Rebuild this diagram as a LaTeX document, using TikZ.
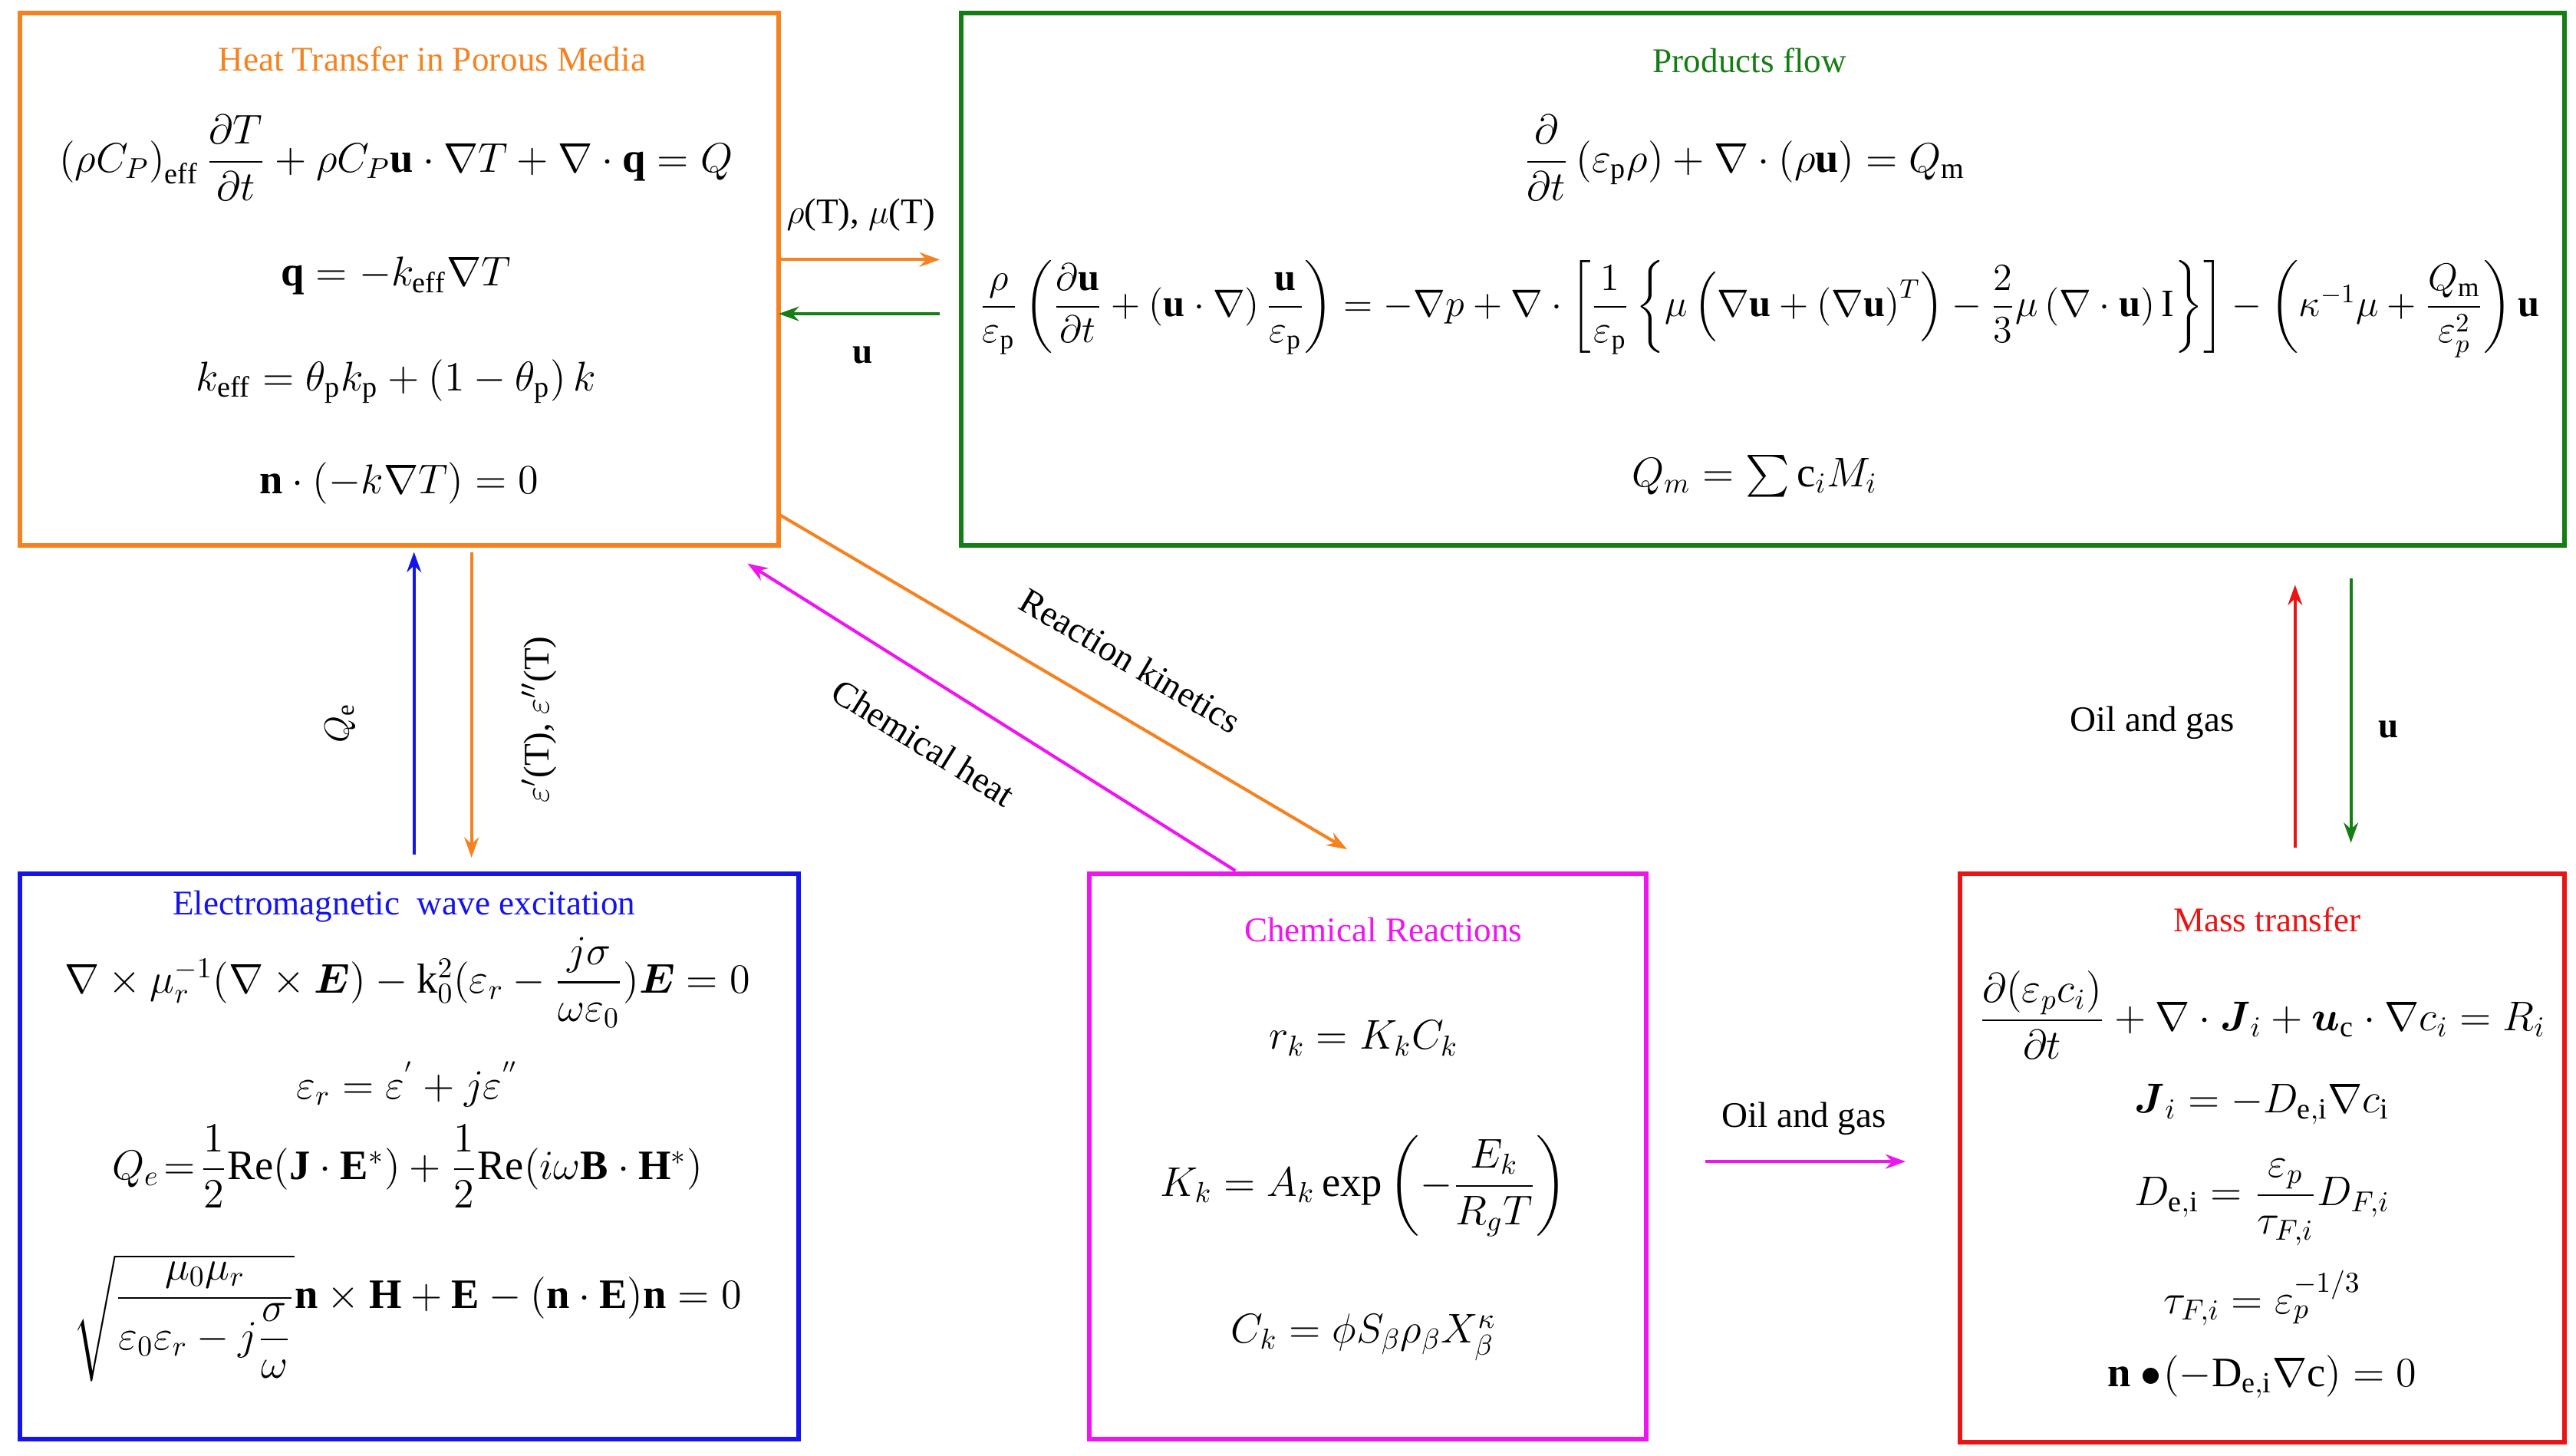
\documentclass[tikz,border=0pt]{standalone}
\usepackage{amsmath,amssymb,graphicx}
\usepackage{fontspec}
\setmainfont{Liberation Serif}
\usetikzlibrary{arrows.meta}
\definecolor{cor}{RGB}{245,130,32}
\definecolor{cgr}{RGB}{20,125,20}
\definecolor{cbl}{RGB}{20,20,235}
\definecolor{cmg}{RGB}{240,20,240}
\definecolor{crd}{RGB}{235,20,20}
\begin{document}
\begin{tikzpicture}[x=0.02cm,y=-0.02cm,
  box/.style={draw,line width=1.6pt},
  ttl/.style={font=\fontsize{12}{14}\selectfont},
  eq/.style={font=\fontsize{14.5}{16}\selectfont,inner sep=0pt},
  lab/.style={font=\fontsize{12.5}{14}\selectfont,inner sep=1pt},
  arr/.style={-{Stealth[length=7pt,width=5pt]},line width=1.1pt}]
\useasboundingbox (0,0) rectangle (1568,886);
% boxes
\draw[box,cor] (12,8) rectangle (474,332);
\draw[box,cgr] (585,8) rectangle (1561,332);
\draw[box,cbl] (12,532) rectangle (486,876);
\draw[box,cmg] (663,532) rectangle (1002,876);
\draw[box,crd] (1193,532) rectangle (1561,878);
% Heat
\node[ttl,text=cor] (th) at (263,36) {Heat Transfer in Porous Media};
\node[eq] (h1) at (241,96) {$\left(\rho C_P\right)_{\mathrm{eff}}\dfrac{\partial T}{\partial t}+\rho C_P\mathbf{u}\cdot\nabla T+\nabla\cdot\mathbf{q}=Q$};
\node[eq] (h2) at (241,168) {$\mathbf{q}=-k_{\mathrm{eff}}\nabla T$};
\node[eq] (h3) at (241,232) {$k_{\mathrm{eff}}=\theta_{\mathrm p}k_{\mathrm p}+\left(1-\theta_{\mathrm p}\right)k$};
\node[eq] (h4) at (243,294) {$\mathbf{n}\cdot(-k\nabla T)=0$};
% Products
\node[ttl,text=cgr] (tp) at (1065,37) {Products flow};
\node[eq] (p1) at (1062,96) {$\dfrac{\partial}{\partial t}\left(\varepsilon_{\mathrm p}\rho\right)+\nabla\cdot\left(\rho\mathbf{u}\right)=Q_{\mathrm m}$};
\node[eq] (p2) at (1071,188) {\resizebox{19cm}{!}{$\dfrac{\rho}{\varepsilon_{\mathrm p}}\left(\dfrac{\partial\mathbf{u}}{\partial t}+\left(\mathbf{u}\cdot\nabla\right)\dfrac{\mathbf{u}}{\varepsilon_{\mathrm p}}\right)=-\nabla p+\nabla\cdot\left[\dfrac{1}{\varepsilon_{\mathrm p}}\left\{\mu\left(\nabla\mathbf{u}+\left(\nabla\mathbf{u}\right)^T\right)-\dfrac{2}{3}\mu\left(\nabla\cdot\mathbf{u}\right)\mathrm{I}\right\}\right]-\left(\kappa^{-1}\mu+\dfrac{Q_{\mathrm m}}{\varepsilon_p^2}\right)\mathbf{u}$}};
\node[eq] (p3) at (1068,290) {$Q_m=\sum \mathrm{c}_iM_i$};
% EM
\node[ttl,text=cbl] (te) at (246,552) {Electromagnetic\ \ wave excitation};
\node[eq] (e1) at (248,598) {$\nabla\times\mu_r^{-1}(\nabla\times\boldsymbol{E})-\mathrm{k}_0^2(\varepsilon_r-\dfrac{j\sigma}{\omega\varepsilon_0})\boldsymbol{E}=0$};
\node[eq] (e2) at (248,660) {$\varepsilon_r=\varepsilon^{'}+j\varepsilon^{''}$};
\node[eq] (e3) at (248,710) {$Q_e\!=\!\dfrac{1}{2}\mathrm{Re}(\mathbf{J}\cdot\mathbf{E}^*)+\dfrac{1}{2}\mathrm{Re}(i\omega\mathbf{B}\cdot\mathbf{H}^*)$};
\node[eq] (e4) at (248,802) {$\sqrt{\dfrac{\mu_0\mu_r}{\varepsilon_0\varepsilon_r-j\dfrac{\sigma}{\omega}}}\mathbf{n}\times\mathbf{H}+\mathbf{E}-(\mathbf{n}\cdot\mathbf{E})\mathbf{n}=0$};
% Chem
\node[ttl,text=cmg] (tc) at (842,566) {Chemical Reactions};
\node[eq] (c1) at (830,632) {$r_k=K_kC_k$};
\node[eq] (c2) at (830,722) {$K_k=A_k\exp\left(-\dfrac{E_k}{R_gT}\right)$};
\node[eq] (c3) at (830,814) {$C_k=\phi S_\beta\rho_\beta X_\beta^\kappa$};
% Mass
\node[ttl,text=crd] (tm) at (1380,560) {Mass transfer};
\node[eq] (m1) at (1377,618) {$\dfrac{\partial(\varepsilon_pc_i)}{\partial t}+\nabla\cdot\boldsymbol{J}_i+\boldsymbol{u}_{\mathrm c}\cdot\nabla c_i=R_i$};
\node[eq] (m2) at (1377,672) {$\boldsymbol{J}_i=-D_{\mathrm{e,i}}\nabla c_{\mathrm i}$};
\node[eq] (m3) at (1377,732) {$D_{\mathrm{e,i}}=\dfrac{\varepsilon_p}{\tau_{F,i}}D_{F,i}$};
\node[eq] (m4) at (1377,790) {$\tau_{F,i}=\varepsilon_p^{-1/3}$};
\node[eq] (m5) at (1377,838) {$\mathbf{n}\bullet\!\left(-\mathrm{D}_{\mathrm{e,i}}\nabla\mathrm{c}\right)=0$};
% connector endpoints
\coordinate (a1s) at (474,158); \coordinate (a1e) at (572,158);
\coordinate (a2s) at (572,191); \coordinate (a2e) at (474,191);
\coordinate (a3s) at (252,520); \coordinate (a3e) at (252,336);
\coordinate (a4s) at (287,336); \coordinate (a4e) at (287,522);
\coordinate (a5s) at (474,313); \coordinate (a5e) at (820,517);
\coordinate (a6s) at (752,530); \coordinate (a6e) at (455,343);
\coordinate (a7s) at (1397,516); \coordinate (a7e) at (1397,356);
\coordinate (a8s) at (1431,352); \coordinate (a8e) at (1431,513);
\coordinate (a9s) at (1038,707); \coordinate (a9e) at (1160,707);
\draw[arr,cor] (a1s) -- (a1e);
\draw[arr,cgr] (a2s) -- (a2e);
\draw[arr,cbl] (a3s) -- (a3e);
\draw[arr,cor] (a4s) -- (a4e);
\draw[arr,cor] (a5s) -- (a5e);
\draw[arr,cmg] (a6s) -- (a6e);
\draw[arr,crd] (a7s) -- (a7e);
\draw[arr,cgr] (a8s) -- (a8e);
\draw[arr,cmg] (a9s) -- (a9e);
% labels
\node[lab] (l1) at (524,131) {$\rho$(T), $\mu$(T)};
\node[lab] (l2) at (525,216) {$\mathbf{u}$};
\node[lab,rotate=90] (l3) at (207,440) {$Q_{\mathrm e}$};
\node[lab,rotate=90] (l4) at (328,438) {$\varepsilon'$(T), $\varepsilon''$(T)};
\node[lab,rotate=-30.5] (l5) at (688,402) {Reaction kinetics};
\node[lab,rotate=-32] (l6) at (562,452) {Chemical heat};
\node[lab] (l7) at (1310,440) {Oil and gas};
\node[lab] (l8) at (1454,444) {$\mathbf{u}$};
\node[lab] (l9) at (1098,681) {Oil and gas};
\end{tikzpicture}
\end{document}
